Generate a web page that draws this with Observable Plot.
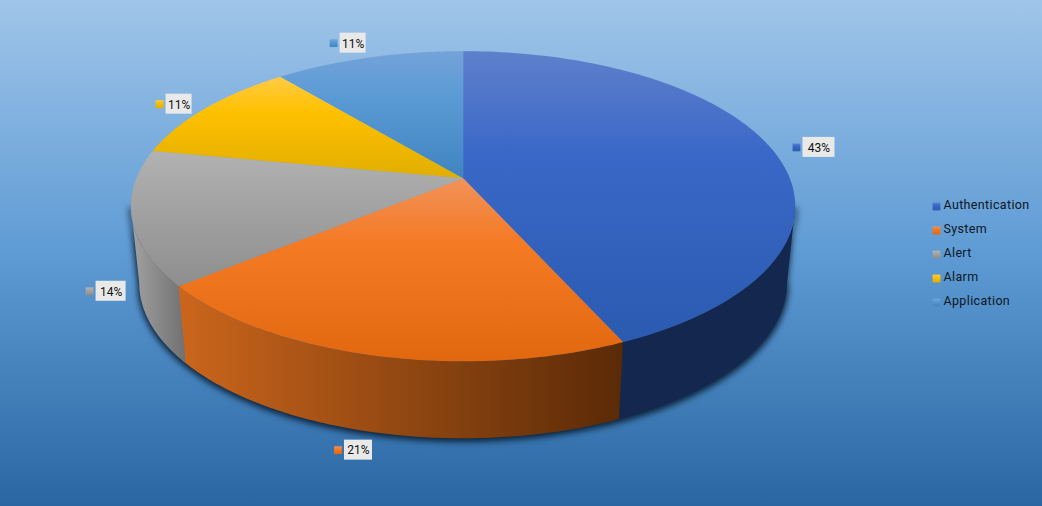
<!DOCTYPE html>
<html>
<head>
<meta charset="utf-8">
<script src="https://cdn.jsdelivr.net/npm/d3@7"></script>
<script src="https://cdn.jsdelivr.net/npm/@observablehq/plot@0.6"></script>
<style>
html,body{margin:0;padding:0;background:#5b9bd5}
svg{display:block}
</style>
</head>
<body>
<div id="chart"></div>
<script>
// Data
const categories = ["Authentication", "System", "Alert", "Alarm", "Application"];
const shares = [43.3, 20.7, 14, 11, 11];
const labels = ["43%", "21%", "14%", "11%", "11%"];

// Styling, kept apart from the data
const topStops = [
  ["#5f80cb", "#3a68c8", "#2b5ab0"],
  ["#f2925a", "#f47a24", "#e26810"],
  ["#b2b2b2", "#a5a5a5", "#8e8e8e"],
  ["#ffcb45", "#ffc000", "#e0ae00"],
  ["#74a3d8", "#5b9bd5", "#3f84c0"]
];
const wallStops = [
  ["#13274f", "#13274f"],
  ["#cc661c", "#5a2a07"],
  ["#a2a2a2", "#707070"]
];
const topIds = categories.map((_, i) => `url(#top${i})`);
const labelNudge = [[48, -0.6], [-14.5, 94.7], [-20.7, 74], [-26.5, -4.1], [-15.4, -14.4]];
const labelWidth = [32, 28, 30, 26, 26];

// Perspective view of the disc
const cx = 462.6, cy = 177.7, k = 0.1806, A = 326.7, B = 150, depth = 77, shrink = 0.975;
const project = (f) => {
  const t = f * 2 * Math.PI, d = 1 + k * Math.cos(t);
  return [cx + A * Math.sin(t) / d, cy - B * Math.cos(t) / d];
};
const lower = ([x, y]) => [cx + (x - cx) * shrink, y + depth];
const arc = (f0, f1) => d3.range(0, 121).map(i => project(f0 + (f1 - f0) * i / 120));

const total = d3.sum(shares);
const cum = d3.cumsum(shares);
const slices = categories.map((cat, i) => ({
  cat, i, label: labels[i],
  f0: (cum[i] - shares[i]) / total,
  f1: cum[i] / total
}));

const topPts = slices.flatMap(s =>
  [[cx, cy], ...arc(s.f0, s.f1)].map(([x, y]) => ({cat: s.cat, x, y})));

const sil = Math.acos(-k) / (2 * Math.PI);
const wallPts = slices.flatMap(s => {
  const a = Math.max(s.f0, sil), b = Math.min(s.f1 + 0.003, 1 - sil);
  if (a >= b) return [];
  const rim = arc(a, b);
  return [...rim, ...rim.slice().reverse().map(lower)]
    .map(([x, y]) => ({i: s.i, x, y}));
});
const shadowPts = (() => {
  const rim = arc(sil, 1 - sil);
  return [...rim, ...rim.slice().reverse().map(lower)].map(([x, y]) => ({x, y}));
})();

const labelRows = slices.map(s => {
  const [mx, my] = project((s.f0 + s.f1) / 2);
  const [nx, ny] = labelNudge[s.i];
  return {...s, x: mx + nx, y: my + ny, w: labelWidth[s.i]};
});

const legendRows = categories.map((cat, i) => ({cat, row: i}));
const legendTop = 206, legendStep = 24, legendX = 936;

const stops = (list) => list.map((c, i) =>
  `<stop offset="${list.length === 3 ? [0, 0.35, 1][i] : i / (list.length - 1)}" stop-color="${c}"/>`).join("");

const defs = () => {
  const g = document.createElementNS("http://www.w3.org/2000/svg", "defs");
  g.innerHTML =
    `<linearGradient id="bg" x1="0" y1="0" x2="0" y2="1">
       <stop offset="0" stop-color="#a0c5e9"/><stop offset="0.5" stop-color="#5e9bd4"/><stop offset="1" stop-color="#2a66a2"/>
     </linearGradient>` +
    topStops.map((s, i) => `<linearGradient id="top${i}" x1="0" y1="0" x2="0" y2="1">${stops(s)}</linearGradient>`).join("") +
    wallStops.map((s, i) => `<linearGradient id="wall${i}" x1="0" y1="0" x2="1" y2="0">${stops(s)}</linearGradient>`).join("");
  return g;
};

const spaced = (index, scales, values, dims, context, next) => {
  const g = next(index, scales, values, dims, context);
  g.style.letterSpacing = "0.35px";
  return g;
};

const plot = Plot.plot({
  width: 1042,
  height: 506,
  margin: 0,
  x: {domain: [0, 1042], range: [0, 1042], axis: null},
  y: {domain: [0, 506], range: [0, 506], axis: null},
  color: {type: "ordinal", domain: categories, range: topIds},
  style: {background: "transparent", fontFamily: "Roboto, sans-serif"},
  marks: [
    defs,
    Plot.frame({fill: "url(#bg)", stroke: "none", inset: -1}),
    Plot.line(shadowPts, {x: "x", y: "y", dy: 2, dx: 0, fill: "#0b2238", stroke: "#0b2238", strokeWidth: 3, imageFilter: "blur(3px)", curve: "linear"}),
    ...[0, 1, 2].map(i => Plot.line(wallPts.filter(d => d.i === i), {
      x: "x", y: "y", fill: `url(#wall${i})`, stroke: "none", curve: "linear"
    })),
    Plot.line(topPts, {x: "x", y: "y", z: "cat", fill: "cat", stroke: "none", curve: "linear"}),
    // data labels
    Plot.rect(labelRows, {
      x1: d => d.x - d.w / 2, x2: d => d.x + d.w / 2,
      y1: d => d.y - 10, y2: d => d.y + 10,
      fill: "#e9e9e9"
    }),
    Plot.dot(labelRows, {
      x: d => d.x - d.w / 2 - 6.5, y: "y", symbol: "square", r: 4.4, fill: "cat", stroke: "none"
    }),
    Plot.text(labelRows, {
      x: "x", y: d => d.y + 0.5, text: "label", fontSize: 12, fontWeight: 400, fill: "#111"
    }),
    // legend
    Plot.dot(legendRows, {
      x: legendX, y: d => legendTop + d.row * legendStep, symbol: "square", r: 4.4, fill: "cat", stroke: "none"
    }),
    Plot.text(legendRows, {
      x: legendX + 7, y: d => legendTop - 2 + d.row * legendStep, text: "cat", textAnchor: "start",
      fontSize: 12.5, fill: "#0d1622", render: spaced
    })
  ]
});
document.getElementById("chart").append(plot);
</script>
</body>
</html>
